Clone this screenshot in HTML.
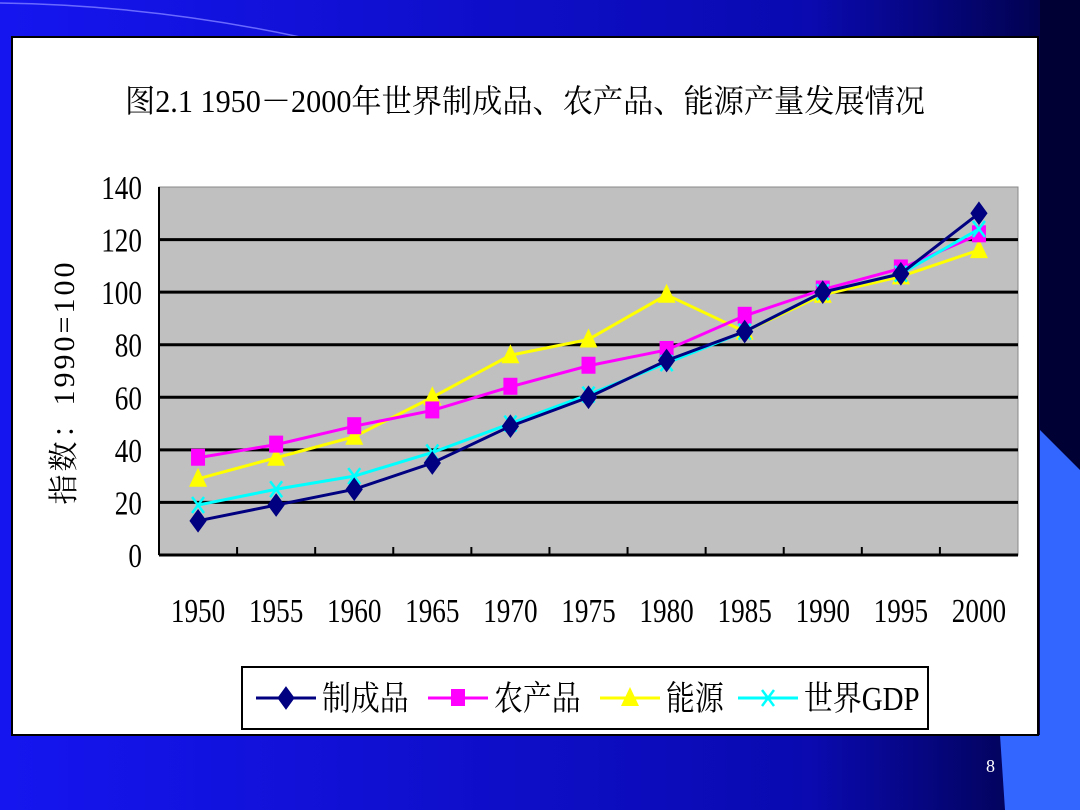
<!DOCTYPE html>
<html><head><meta charset="utf-8"><style>
html,body{margin:0;padding:0;width:1080px;height:810px;overflow:hidden}
svg{display:block}
text{font-family:"Liberation Serif","Noto Serif CJK SC",serif}
</style></head><body>
<svg id="s" width="1080" height="810" viewBox="0 0 1080 810">
<defs>
<linearGradient id="bg" x1="0" x2="1" y1="0" y2="0">
<stop offset="0" stop-color="#1515f0"/><stop offset="0.75" stop-color="#0a0ab0"/><stop offset="1" stop-color="#000040"/>
</linearGradient>
</defs>
<rect width="1080" height="810" fill="url(#bg)"/>
<rect x="1040" y="0" width="40" height="810" fill="#000035"/>
<polygon points="1040,430 1080,470 1080,810 1005,810 1000,735 1040,735" fill="#3366ff"/>
<path d="M0,3 Q150,5 300,37" stroke="#6a6aff" stroke-width="1.5" fill="none"/>
<rect x="12" y="37" width="1026" height="698" fill="#fff" stroke="#000" stroke-width="2"/>
<text x="525" y="112" font-size="32" text-anchor="middle" textLength="800" lengthAdjust="spacingAndGlyphs">图2.1 1950－2000年世界制成品、农产品、能源产量发展情况</text>
<text transform="translate(74,382) rotate(-90)" font-size="30" text-anchor="middle" letter-spacing="3">指数：1990=100</text>
<rect x="159" y="187" width="859" height="368" fill="#c0c0c0" stroke="#888"/>
<g id="grid"></g><g id="axes"></g><g id="series"></g>
<g>
<rect x="242" y="667" width="686" height="62" fill="#fff" stroke="#000" stroke-width="2"/>
<g id="leg"></g>
</g>
<text x="986" y="772" font-size="18" fill="#fff">8</text>
</svg>
<script>
const categories=["1950","1955","1960","1965","1970","1975","1980","1985","1990","1995","2000"];
const yTicks=[0,20,40,60,80,100,120,140];
const seriesNames=["制成品","农产品","能源","世界GDP"];
const manufactured=[13,19,25,35,49,60,74,85,100,107,130];
const agriculture=[37,42,49,55,64,72,78,91,101,109,122];
const energy=[29,37,45,60,76,82,99,85,99,106,116];
const gdp=[19,25,30,39,50,61,73,85,100,107,124];
const colors=["#000080","#ff00ff","#ffff00","#00ffff"];
const markers=["diamond","square","triangle","x"];

const NS="http://www.w3.org/2000/svg";
const X0=159,X1=1018,Y0=555,Y1=187,YMAX=140;
const bw=(X1-X0)/categories.length;
function xs(i){return X0+bw*(i+0.5);}
function ys(v){return Y0-(v/YMAX)*(Y0-Y1);}
function mk(tag,attrs,parent){const e=document.createElementNS(NS,tag);for(const k in attrs)e.setAttribute(k,attrs[k]);parent.appendChild(e);return e;}
const grid=document.getElementById('grid'),axes=document.getElementById('axes'),ser=document.getElementById('series'),leg=document.getElementById('leg');
yTicks.forEach(t=>{
  const y=ys(t);
  if(t>0&&t<YMAX){const l=mk('line',{x1:X0,x2:X1,y1:y,y2:y,stroke:'#000','stroke-width':3},grid);
  
  }
  const tx=mk('text',{x:142/0.8,y:y+12,'font-size':34,'text-anchor':'end',transform:'scale(0.8,1)'},axes);
  tx.textContent=t;
  
  
});
let a=mk('line',{x1:X0,x2:X0,y1:Y1,y2:Y0,stroke:'#000','stroke-width':2},axes);


a=mk('line',{x1:X0,x2:X1,y1:Y0,y2:Y0,stroke:'#000','stroke-width':3},axes);


categories.forEach((c,i)=>{
  if(i>0){const tk=mk('line',{x1:X0+bw*i,x2:X0+bw*i,y1:Y0-8,y2:Y0,stroke:'#000','stroke-width':2},axes);
  
  }
  const tx=mk('text',{x:xs(i)/0.8,y:622,'font-size':34,'text-anchor':'middle',transform:'scale(0.8,1)'},axes);
  tx.textContent=c;
  
  
});
function marker(type,x,y,col,parent){
  let e;
  if(type==='diamond')e=mk('polygon',{points:`${x},${y-11} ${x+8},${y} ${x},${y+11} ${x-8},${y}`,fill:col,stroke:col},parent);
  else if(type==='square')e=mk('rect',{x:x-7,y:y-9,width:14,height:17,fill:col},parent);
  else if(type==='triangle')e=mk('polygon',{points:`${x},${y-11} ${x+9},${y+8} ${x-9},${y+8}`,fill:col},parent);
  else {e=mk('path',{d:`M${x-6},${y-8}L${x+6},${y+8}M${x+6},${y-8}L${x-6},${y+8}`,stroke:col,'stroke-width':2.5},parent);}
  return e;
}
const allSeries=[manufactured,agriculture,energy,gdp];
const order=[2,1,3,0];
order.forEach(si=>{
  const d=allSeries[si],g=mk('g',{},ser);
  
  
  const p=mk('polyline',{points:d.map((v,i)=>xs(i)+','+ys(v)).join(' '),fill:'none',stroke:colors[si],'stroke-width':3},g);
  
  
  d.forEach((v,i)=>{const m=marker(markers[si],xs(i),ys(v),colors[si],g);
    
    });
});
const legX=[256,428,600,738];
seriesNames.forEach((n,si)=>{
  const g=mk('g',{},leg);
  
  
  const x=legX[si],y=698;
  mk('line',{x1:x,x2:x+60,y1:y,y2:y,stroke:colors[si],'stroke-width':3},g);
  marker(markers[si],x+30,y,colors[si],g);
  const t=mk('text',{x:(x+66)/0.85,y:y+12,'font-size':34,transform:'scale(0.85,1)'},g);
  t.textContent=n;
});
</script>
</body></html>
